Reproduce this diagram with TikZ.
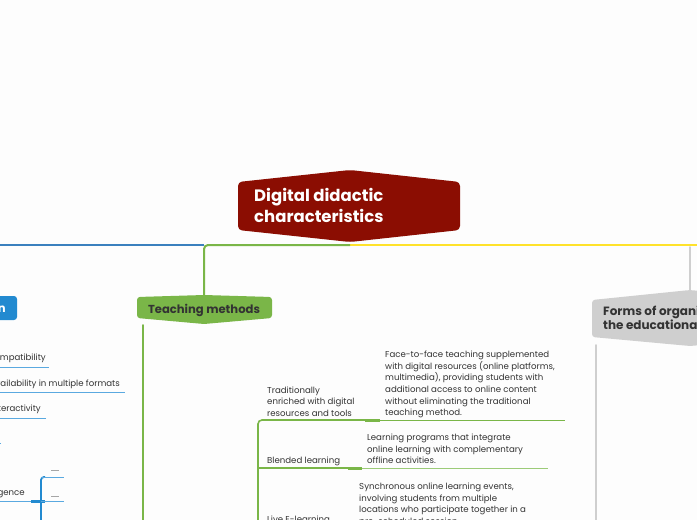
\documentclass[tikz,border=0pt]{standalone}
\usepackage{fontspec}
\setmainfont{Poppins}
\definecolor{rootred}{HTML}{8B0D02}
\definecolor{mmgreen}{HTML}{7AB648}
\definecolor{descgreen}{HTML}{9CCB78}
\definecolor{mmblue}{HTML}{3A80BE}
\definecolor{nodeblue}{HTML}{228AD0}
\definecolor{lightblue}{HTML}{5AA9E0}
\definecolor{mmyellow}{HTML}{FFE22B}
\definecolor{mmgrey}{HTML}{CFCFCF}
\definecolor{txt}{HTML}{333333}
\definecolor{bg}{HTML}{FDFDFD}
\begin{document}
\begin{tikzpicture}[x=1pt,y=-1pt,
  small/.style={font=\fontsize{8.6}{11.6}\selectfont, text=txt, inner sep=0pt, align=left},
  topic/.style={font=\bfseries\fontsize{11.6}{14}\selectfont, text=txt, inner sep=0pt, align=left},
  trunk/.style={line width=1.6pt, line cap=round},
  uline/.style={line width=0.9pt},
  knot/.style={line width=3pt}]
\useasboundingbox (0,0) rectangle (697,520);
\clip (0,0) rectangle (697,520);
\fill[bg] (0,0) rectangle (697,520);

% ---------- main branch lines ----------
\coordinate (hub) at (350,245);
\coordinate (lefthub) at (204,245);
\coordinate (leftend) at (0,245);
\coordinate (rightend) at (697,245);
\draw[mmblue, line width=2.2pt] (lefthub) -- (leftend);
\draw[mmyellow, line width=2.2pt] (hub) -- (rightend);
\draw[mmgreen, line width=2pt, rounded corners=4pt] (hub) -- (lefthub) -- (204,296);
\draw[mmgrey, trunk] (690,247) -- (690,292);

% ---------- root ----------
\fill[rootred, rounded corners=4pt] (238,182) -- (350,170) -- (460,182) -- (460,230) -- (350,242) -- (238,230) -- cycle;
\node[anchor=north west, align=left, inner sep=0pt, text=white,
      font=\bfseries\fontsize{16.5}{21}\selectfont] (root) at (254,188.5) {Digital didactic\\characteristics};

% ---------- Teaching methods ----------
\fill[mmgreen, rounded corners=3pt] (137,297) -- (204,295) -- (272,297) -- (272,318) -- (204,324) -- (137,318) -- cycle;
\node[topic, anchor=center] (teach) at (204,310) {Teaching methods};
\coordinate (teachtrunk) at (143,325);
\draw[mmgreen, trunk] (teachtrunk) -- (143,525);

% ---------- Forms of organization ----------
\fill[mmgrey, rounded corners=3pt] (592,300) -- (690,290) -- (790,300) -- (790,337) -- (690,346) -- (592,337) -- cycle;
\node[topic, anchor=north west, font=\bfseries\fontsize{12}{14}\selectfont] (forms) at (603,305.5) {Forms of organization of\\the educational process};
\draw[mmgrey, trunk] (596,345) -- (596,525);

% ---------- left blue branch ----------
\fill[nodeblue, rounded corners=3pt] (-120,296) rectangle (17,320);
\node[anchor=east, inner sep=0pt, text=white, font=\bfseries\fontsize{11.6}{14}\selectfont] (content) at (6,309) {Digital content design};

\node[small, anchor=east] (compat) at (46,358) {Compatibility};
\draw[lightblue, uline] (-5,367) -- (49,367);
\node[small, anchor=east] (avail) at (120,384) {Availability in multiple formats};
\draw[lightblue, uline] (-5,392) -- (125,392);
\node[small, anchor=east] (inter) at (41,409) {Interactivity};
\draw[lightblue, uline] (-5,418) -- (46,418);
\draw[lightblue, uline] (-5,443) -- (1,443);
\node[small, anchor=east] (ai) at (25,493) {Artificial intelligence};
\draw[lightblue, uline] (-5,501) -- (33,501);
\draw[nodeblue, knot] (31,501) -- (45,501);
\coordinate (aitop) at (64,477);
\coordinate (aimid) at (64,501);
\draw[nodeblue, line width=1.8pt, rounded corners=3pt] (41,525) -- (41,477) -- (45,477);
\draw[lightblue, uline] (41,477) -- (aitop);
\draw[lightblue, uline] (41,501) -- (aimid);
\draw[gray!70, line width=0.6pt] (51,470) -- (59,470);
\draw[gray!70, line width=0.6pt] (51,496) -- (59,496);

% ---------- green sub-branches ----------
\draw[mmgreen, line width=1.6pt, rounded corners=4pt] (365,420) -- (258,420) -- (258,525);
\draw[mmgreen, knot] (365,420) -- (380,420);
\draw[mmgreen, uline] (380,420) -- (565,420);
\draw[mmgreen, line width=1.6pt] (258,468) -- (348,468);
\draw[mmgreen, knot] (348,468) -- (362,468);
\draw[descgreen, uline] (362,468) -- (548,468);

\node[small, anchor=north west] (trad) at (267,386.5) {Traditionally\\enriched with digital\\resources and tools};
\node[small, anchor=north west] (tradd) at (385,351) {Face-to-face teaching supplemented\\with digital resources (online platforms,\\multimedia), providing students with\\additional access to online content\\without eliminating the traditional\\teaching method.};
\node[small, anchor=north west] (blend) at (267,457) {Blended learning};
\node[small, anchor=north west] (blendd) at (367,434) {Learning programs that integrate\\online learning with complementary\\offline activities.};
\node[small, anchor=north west] (live) at (267,516) {Live E-learning};
\node[small, anchor=north west] (lived) at (359,483) {Synchronous online learning events,\\involving students from multiple\\locations who participate together in a\\pre-scheduled session.};
\end{tikzpicture}
\end{document}
